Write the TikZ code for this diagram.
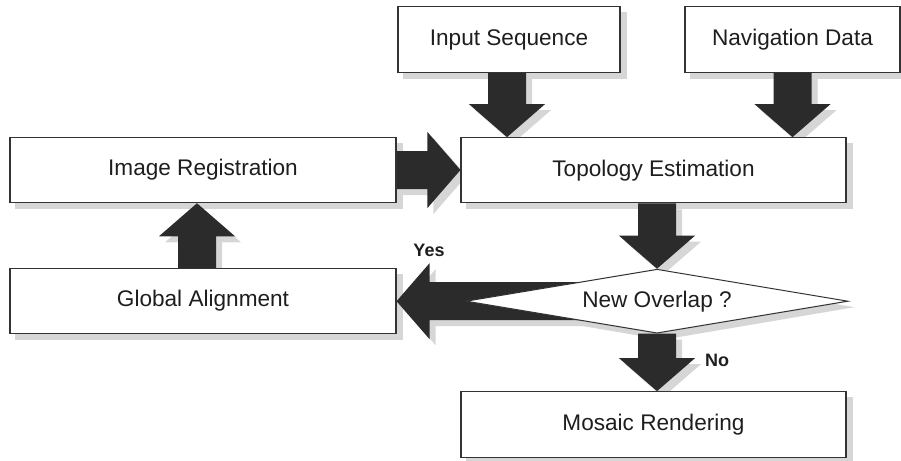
\documentclass[tikz,border=0pt]{standalone}
\usepackage{fontspec}
\setmainfont{Liberation Sans}
\usetikzlibrary{shapes.geometric,calc}
\pgfdeclarelayer{shadowlayer}
\pgfdeclarelayer{arrowlayer}
\pgfsetlayers{shadowlayer,arrowlayer,main}
\definecolor{arrowcol}{HTML}{2B2B2B}
\definecolor{shadowcol}{HTML}{D6D6D6}
\definecolor{linecol}{HTML}{333333}
\definecolor{textcol}{HTML}{1E1E1E}
% #1 style, #2 start, #3 tip, #4 back of head
\newcommand\myarrowpoly[4]{%
  \fill[#1] ($(#2)!19pt!90:(#3)$) -- ($(#4)!19pt!90:(#3)$) -- ($(#4)!38pt!90:(#3)$) -- (#3)
    -- ($(#4)!38pt!-90:(#3)$) -- ($(#4)!19pt!-90:(#3)$) -- ($(#2)!19pt!-90:(#3)$) -- cycle;}
\newcommand\myblockarrow[2]{%
  \coordinate (tmpS) at (#1);
  \coordinate (tmpE) at (#2);
  \coordinate (tmpB) at ($(tmpE)!33pt!(tmpS)$);
  \coordinate (tmpSs) at ($(tmpS)+(6,6)$);
  \coordinate (tmpEs) at ($(tmpE)+(6,6)$);
  \coordinate (tmpBs) at ($(tmpB)+(6,6)$);
  \begin{pgfonlayer}{shadowlayer}\myarrowpoly{shadowcol}{tmpSs}{tmpEs}{tmpBs}\end{pgfonlayer}
  \begin{pgfonlayer}{arrowlayer}\myarrowpoly{arrowcol}{tmpS}{tmpE}{tmpB}\end{pgfonlayer}}
\newcommand\myboxshadow[1]{%
  \begin{pgfonlayer}{shadowlayer}\fill[shadowcol] ($(#1.north west)+(6,6)$) rectangle ($(#1.south east)+(6,6)$);\end{pgfonlayer}}
\begin{document}
\begin{tikzpicture}[x=1pt,y=-1pt,
  procbox/.style={draw=linecol, line width=1.1pt, fill=white, inner sep=0pt, text=textcol,
    font=\fontsize{22.6}{27}\selectfont},
  decision/.style={diamond, draw=linecol, line width=1pt, fill=white, inner sep=0pt, aspect=6,
    minimum width=382pt, minimum height=64pt, text=textcol, font=\fontsize{22.6}{27}\selectfont},
  answer/.style={font=\bfseries\fontsize{18}{21}\selectfont, text=textcol, inner sep=0pt}]
\useasboundingbox (0,0) rectangle (901,460);

% nodes
\node[procbox, minimum width=222pt, minimum height=65.6pt] (input) at (509,39.5) {Input Sequence};
\node[procbox, minimum width=215pt, minimum height=65.6pt] (nav) at (792.5,39.5) {Navigation Data};
\node[procbox, minimum width=385pt, minimum height=65pt] (topo) at (653.5,170.2) {Topology Estimation};
\node[procbox, minimum width=386pt, minimum height=65.4pt] (imreg) at (203,170) {Image Registration};
\node[procbox, minimum width=386pt, minimum height=65pt] (global) at (203,300.8) {Global Alignment};
\node[decision] (dec) at (657,301.2) {New Overlap ?};
\node[procbox, minimum width=385pt, minimum height=66pt] (mosaic) at (653.5,424.7) {Mosaic Rendering};

\node[answer] (yes) at (429,250) {Yes};
\node[answer] (no) at (717,360) {No};

% shadows of boxes
\myboxshadow{input}
\myboxshadow{nav}
\myboxshadow{topo}
\myboxshadow{imreg}
\myboxshadow{global}
\myboxshadow{mosaic}
\begin{pgfonlayer}{shadowlayer}
\fill[shadowcol] ($(dec.north)+(6,6)$) -- ($(dec.east)+(6,6)$) -- ($(dec.south)+(6,6)$) -- ($(dec.west)+(6,6)$) -- cycle;
\end{pgfonlayer}

% arrow end points
\coordinate (ax1) at (507,0);
\coordinate (ax2) at (197,0);
\coordinate (a1s) at (input.south -| ax1);
\coordinate (a1e) at (topo.north -| ax1);
\coordinate (a2s) at (nav.south);
\coordinate (a2e) at (nav.south |- topo.north);
\coordinate (a3s) at (imreg.east);
\coordinate (a3e) at (imreg.east -| topo.west);
\coordinate (a4s) at (global.north -| ax2);
\coordinate (a4e) at (imreg.south -| ax2);
\coordinate (a5s) at (dec.north |- topo.south);
\coordinate (a5e) at (dec.north);
\coordinate (a6s) at (dec.south);
\coordinate (a6e) at (dec.south |- mosaic.north);
\coordinate (a7s) at (dec.center);
\coordinate (a7e) at (dec.center -| global.east);

\myblockarrow{a1s}{a1e}
\myblockarrow{a2s}{a2e}
\myblockarrow{a3s}{a3e}
\myblockarrow{a4s}{a4e}
\myblockarrow{a5s}{a5e}
\myblockarrow{a6s}{a6e}
\myblockarrow{a7s}{a7e}
\end{tikzpicture}
\end{document}
